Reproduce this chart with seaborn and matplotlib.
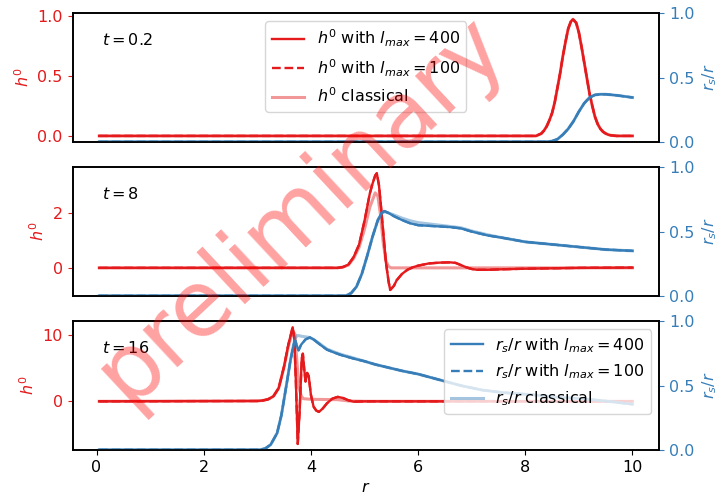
import numpy as np
import matplotlib
matplotlib.use("Agg")
import matplotlib.pyplot as plt
import seaborn as sns

# colours
red = '#e41a1c'
blue = '#377eb8'

# ---- t = 0.2 ----
r_a_h = [0.05, 8.2, 8.25, 8.3, 8.35, 8.4, 8.45, 8.5, 8.55, 8.6, 8.65, 8.7, 8.75, 8.8, 8.85,
         8.89, 8.95, 9.0, 9.05, 9.1, 9.15, 9.2, 9.25, 9.3, 9.35, 9.4, 9.45, 9.5, 9.55, 9.6,
         9.7, 10.0]
h_a = [0, 0, 0.01, 0.02, 0.045, 0.08, 0.13, 0.19, 0.28, 0.40, 0.52, 0.66, 0.78, 0.89, 0.95,
       0.97, 0.94, 0.86, 0.74, 0.61, 0.48, 0.35, 0.25, 0.16, 0.10, 0.06, 0.035, 0.02, 0.01,
       0.005, 0, 0]
r_a_b = [0.05, 8.4, 8.5, 8.6, 8.7, 8.8, 8.9, 9.0, 9.1, 9.2, 9.3, 9.4, 9.5, 9.7, 10.0]
b_a = [0, 0, 0.005, 0.02, 0.055, 0.10, 0.16, 0.235, 0.30, 0.345, 0.365, 0.37, 0.37, 0.362, 0.345]

# ---- t = 8 ----
r_b_h = [0.05, 4.5, 4.6, 4.7, 4.8, 4.9, 5.0, 5.1, 5.15, 5.2, 5.23, 5.27, 5.3, 5.35, 5.4, 5.45,
         5.48, 5.55, 5.6, 5.7, 5.8, 5.9, 6.0, 6.2, 6.4, 6.6, 6.7, 6.8, 6.9, 7.0, 7.1, 7.3,
         7.6, 8.0, 9.0, 10.0]
h_b = [0, 0, 0.03, 0.12, 0.4, 0.85, 1.7, 2.7, 3.05, 3.35, 3.43, 3.0, 2.4, 1.3, 0.2, -0.5,
       -0.8, -0.65, -0.45, -0.22, -0.07, 0.02, 0.08, 0.16, 0.19, 0.2, 0.18, 0.1, 0.02, -0.04,
       -0.07, -0.07, -0.05, -0.03, 0.0, 0.01]
r_b_hc = [0.05, 4.5, 4.6, 4.7, 4.8, 4.9, 5.0, 5.1, 5.2, 5.25, 5.3, 5.35, 5.4, 5.45, 5.5, 10.0]
h_b_cl = [0, 0, 0.03, 0.1, 0.35, 0.75, 1.4, 2.2, 2.72, 2.6, 1.9, 0.9, 0.25, 0.05, 0, 0]
r_b_b = [0.05, 4.65, 4.75, 4.85, 4.95, 5.05, 5.15, 5.25, 5.32, 5.37, 5.45, 5.55, 5.7, 5.85,
         6.0, 6.2, 6.4, 6.6, 6.8, 7.0, 7.3, 7.6, 8.0, 8.5, 9.0, 9.5, 10.0]
b_b = [0, 0, 0.02, 0.07, 0.17, 0.31, 0.46, 0.59, 0.645, 0.66, 0.645, 0.62, 0.59, 0.565,
       0.55, 0.545, 0.54, 0.535, 0.525, 0.50, 0.47, 0.45, 0.42, 0.40, 0.38, 0.36, 0.35]
b_b_cl = [0, 0, 0.02, 0.07, 0.17, 0.31, 0.46, 0.59, 0.64, 0.655, 0.645, 0.63, 0.605, 0.585,
          0.57, 0.56, 0.55, 0.54, 0.53, 0.505, 0.475, 0.45, 0.42, 0.40, 0.38, 0.36, 0.35]

# ---- t = 16 ----
r_c_h = [0.05, 3.0, 3.1, 3.2, 3.3, 3.4, 3.5, 3.58, 3.66, 3.69, 3.72, 3.755, 3.79, 3.83, 3.85,
         3.88, 3.9, 3.93, 3.96, 4.0, 4.05, 4.1, 4.15, 4.22, 4.3, 4.4, 4.5, 4.6, 4.7, 4.8,
         5.0, 10.0]
h_c = [0, 0.05, 0.12, 0.3, 0.75, 2.0, 5.3, 8.6, 11.2, 9.5, 3.0, -6.45, -1.5, 6.5, 7.2,
       4.5, 3.0, 4.3, 3.8, 1.0, -0.8, -1.4, -1.6, -1.1, -0.3, 0.4, 0.67, 0.5, 0.15, -0.05,
       0.0, 0.0]
r_c_hc = [0.05, 3.0, 3.1, 3.2, 3.3, 3.4, 3.5, 3.58, 3.66, 3.7, 3.74, 3.78, 3.82, 3.86, 4.0,
          4.5, 4.7, 5.0, 10.0]
h_c_cl = [0, 0.05, 0.12, 0.3, 0.75, 2.0, 5.2, 8.3, 10.6, 10.2, 6.0, 2.0, 0.8, 0.4, 0.3,
          0.25, 0.05, 0, 0]
r_c_b = [0.05, 3.05, 3.15, 3.25, 3.37, 3.45, 3.55, 3.62, 3.68, 3.71, 3.74, 3.77, 3.82, 3.9,
         3.98, 4.05, 4.17, 4.3, 4.42, 4.55, 4.8, 5.0, 5.2, 5.4, 5.7, 6.0, 6.4, 6.8, 7.2,
         7.6, 8.1, 8.6, 9.0, 9.5, 10.0]
b_c = [0, 0, 0.01, 0.04, 0.13, 0.27, 0.52, 0.70, 0.82, 0.85, 0.81, 0.775, 0.82, 0.86,
       0.875, 0.86, 0.82, 0.78, 0.76, 0.74, 0.71, 0.69, 0.665, 0.645, 0.615, 0.59, 0.545,
       0.50, 0.465, 0.445, 0.43, 0.41, 0.40, 0.38, 0.355]
b_c_cl = [0, 0, 0.01, 0.04, 0.13, 0.27, 0.52, 0.70, 0.83, 0.87, 0.89, 0.89, 0.885, 0.88,
          0.875, 0.86, 0.825, 0.785, 0.765, 0.745, 0.715, 0.69, 0.665, 0.645, 0.615, 0.59,
          0.545, 0.50, 0.465, 0.445, 0.43, 0.41, 0.40, 0.38, 0.355]

times = ['$t=0.2$', '$t=8$', '$t=16$']
left_ticks = [[0.0, 0.5, 1.0], [0, 2], [0, 10]]
right_ticks = [0.0, 0.5, 1.0]
x_ticks = [0, 2, 4, 6, 8, 10]

panels = [
    (r_a_h, h_a, h_a, r_a_h, h_a, r_a_b, b_a, b_a, r_a_b, b_a),
    (r_b_h, h_b, h_b, r_b_hc, h_b_cl, r_b_b, b_b, b_b, r_b_b, b_b_cl),
    (r_c_h, h_c, h_c, r_c_hc, h_c_cl, r_c_b, b_c, b_c, r_c_b, b_c_cl),
]

plt.rcParams['font.size'] = 11.5
plt.rcParams['axes.linewidth'] = 1.2

fig, axes = plt.subplots(3, 1, figsize=(7.18, 4.97), dpi=100, sharex=True)
fig.subplots_adjust(left=0.101, right=0.918, top=0.973, bottom=0.095, hspace=0.2)

for i, ax in enumerate(axes):
    rh, h400, h100, rhc, hcl, rb, b400, b100, rbc, bcl = panels[i]
    ax2 = ax.twinx()

    sns.lineplot(x=rh, y=h400, ax=ax, color=red, lw=1.7)
    sns.lineplot(x=rh, y=h100, ax=ax, color=red, lw=1.7, linestyle='--')
    sns.lineplot(x=rhc, y=hcl, ax=ax, color=red, lw=2.2, alpha=0.45)

    sns.lineplot(x=rb, y=b400, ax=ax2, color=blue, lw=1.7)
    sns.lineplot(x=rb, y=b100, ax=ax2, color=blue, lw=1.7, linestyle='--')
    sns.lineplot(x=rbc, y=bcl, ax=ax2, color=blue, lw=2.2, alpha=0.45)

    ax.set_yticks(left_ticks[i])
    ax2.set_ylim(0, 1)
    ax2.set_yticks(right_ticks)
    ax.tick_params(axis='y', colors=red)
    ax2.tick_params(axis='y', colors=blue)
    ax.set_ylabel('$h^0$', color=red)
    ax2.set_ylabel('$r_s/r$', color=blue)
    ax.text(0.05, 0.79, times[i], transform=ax.transAxes, va='center')

    if i == 0:
        ax.legend(handles=ax.lines[:3],
                  labels=['$h^0$ with $l_{max}=400$', '$h^0$ with $l_{max}=100$',
                          '$h^0$ classical'],
                  loc='upper center')
    if i == 2:
        ax2.legend(handles=ax2.lines[:3],
                   labels=['$r_s/r$ with $l_{max}=400$', '$r_s/r$ with $l_{max}=100$',
                           '$r_s/r$ classical'],
                   loc='upper right')
        ax.set_xticks(x_ticks)
        ax.set_xlabel('$r$')
    else:
        ax.tick_params(axis='x', bottom=False, labelbottom=False)
        ax2.tick_params(axis='x', bottom=False, labelbottom=False)

fig.text(0.419, 0.579, 'preliminary', fontsize=66, color='red', alpha=0.37,
         rotation=43, rotation_mode='anchor', ha='center', va='center', zorder=10)

fig.savefig('out.png', dpi=100)
